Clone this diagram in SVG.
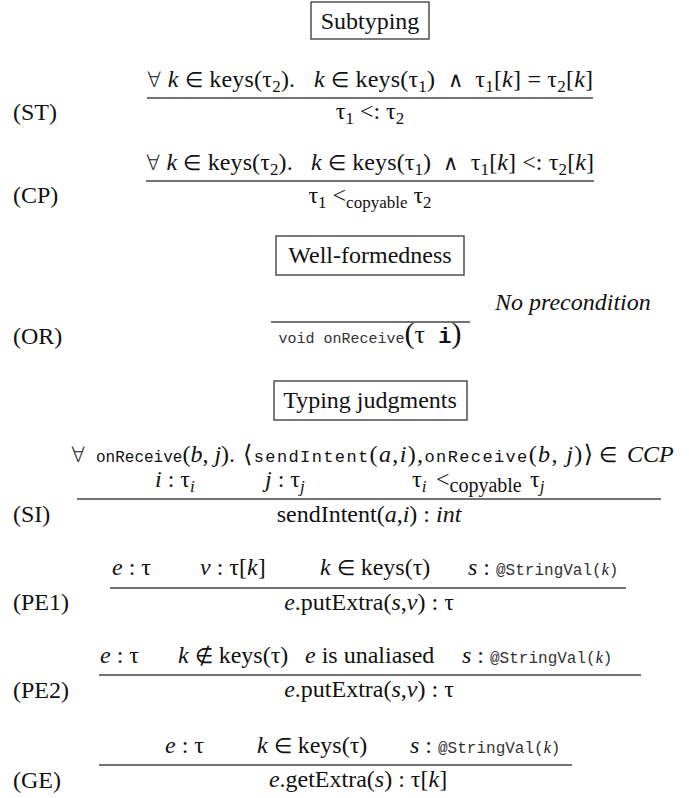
<svg xmlns="http://www.w3.org/2000/svg" width="689" height="798" viewBox="0 0 689 798">
<style>
text{font-family:"Liberation Serif","DejaVu Serif",serif;font-size:24px;fill:#111}
.i{font-style:italic}
.m{font-family:"Liberation Mono","DejaVu Sans Mono",monospace;font-size:17px}
.ms{font-family:"Liberation Mono","DejaVu Sans Mono",monospace;font-size:16px;fill:#333}
.s{font-size:17px}
.si{font-size:16px;font-style:italic}
.y{font-family:"DejaVu Sans",sans-serif;font-weight:200;font-size:21px}
.c{text-anchor:middle}
.box{fill:#fff;stroke:#444;stroke-width:1.4}
.bar{stroke:#444;stroke-width:1.6}
</style>
<rect width="689" height="798" fill="#fff"/>

<g id="hdr-subtyping">
<rect class="box" x="311" y="2" width="118" height="37"/>
<text class="c" x="370" y="29">Subtyping</text>
</g>

<g id="rule-ST">
<text x="13" y="120">(ST)</text>
<text class="c" x="370" y="87" textLength="446" lengthAdjust="spacing"><tspan class="y">∀</tspan> <tspan class="i">k</tspan> <tspan class="y">∈</tspan> keys(τ<tspan class="s" dy="5">2</tspan><tspan dy="-5">).&#160;&#160;&#160;</tspan><tspan class="i">k</tspan> <tspan class="y">∈</tspan> keys(τ<tspan class="s" dy="5">1</tspan><tspan dy="-5">)&#160;&#160;</tspan><tspan class="y">∧</tspan>&#160;&#160;τ<tspan class="s" dy="5">1</tspan><tspan dy="-5">[</tspan><tspan class="i">k</tspan>] = τ<tspan class="s" dy="5">2</tspan><tspan dy="-5">[</tspan><tspan class="i">k</tspan>]</text>
<line class="bar" x1="147" y1="98" x2="593" y2="98"/>
<text class="c" x="370" y="119">τ<tspan class="s" dy="5">1</tspan><tspan dy="-5"> &lt;: τ</tspan><tspan class="s" dy="5">2</tspan></text>
</g>

<g id="rule-CP">
<text x="13" y="203">(CP)</text>
<text class="c" x="370" y="170" textLength="448" lengthAdjust="spacing"><tspan class="y">∀</tspan> <tspan class="i">k</tspan> <tspan class="y">∈</tspan> keys(τ<tspan class="s" dy="5">2</tspan><tspan dy="-5">).&#160;&#160;&#160;</tspan><tspan class="i">k</tspan> <tspan class="y">∈</tspan> keys(τ<tspan class="s" dy="5">1</tspan><tspan dy="-5">)&#160;&#160;</tspan><tspan class="y">∧</tspan>&#160;&#160;τ<tspan class="s" dy="5">1</tspan><tspan dy="-5">[</tspan><tspan class="i">k</tspan>] &lt;: τ<tspan class="s" dy="5">2</tspan><tspan dy="-5">[</tspan><tspan class="i">k</tspan>]</text>
<line class="bar" x1="146" y1="181" x2="594" y2="181"/>
<text class="c" x="370" y="203">τ<tspan class="s" dy="5">1</tspan><tspan dy="-5"> &lt;</tspan><tspan class="s" dy="5">copyable</tspan><tspan dy="-5"> τ</tspan><tspan class="s" dy="5">2</tspan></text>
</g>

<g id="hdr-wellformedness">
<rect class="box" x="276" y="236" width="188" height="39"/>
<text class="c" x="370" y="263">Well-formedness</text>
</g>

<g id="rule-OR">
<text x="13" y="344">(OR)</text>
<text class="i" x="495" y="310">No precondition</text>
<line class="bar" x1="271" y1="322" x2="470" y2="322"/>
<text class="c" x="370" y="343"><tspan class="m" style="font-size:15px;fill:#333">void onReceive</tspan><tspan style="font-size:30px">(</tspan><tspan style="font-size:26px">τ</tspan><tspan class="m" style="font-size:22px;font-weight:bold"> i</tspan><tspan style="font-size:30px">)</tspan></text>
</g>

<g id="hdr-typing">
<rect class="box" x="274" y="381" width="193" height="39"/>
<text class="c" x="370" y="408">Typing judgments</text>
</g>

<g id="rule-SI">
<text x="13" y="522">(SI)</text>
<text class="y" x="71" y="462">∀</text>
<text x="96" y="462"><tspan class="m" style="font-size:16px">onReceive</tspan>(<tspan class="i">b</tspan>, <tspan class="i">j</tspan>).</text>
<text x="243" y="462" textLength="350" lengthAdjust="spacing">⟨<tspan class="m">sendIntent</tspan>(<tspan class="i">a</tspan>,<tspan class="i">i</tspan>),<tspan class="m">onReceive</tspan>(<tspan class="i">b</tspan>, <tspan class="i">j</tspan>)⟩</text>
<text class="y" x="599" y="462">∈</text>
<text class="i" x="627" y="462">CCP</text>
<text x="155" y="487"><tspan class="i">i</tspan> : τ<tspan class="s i" dy="5">i</tspan></text>
<text x="265" y="487"><tspan class="i">j</tspan> : τ<tspan class="s i" dy="5">j</tspan></text>
<text x="412" y="487">τ<tspan class="s i" dy="5">i</tspan></text>
<text x="436" y="487">&lt;<tspan style="font-size:20px" dy="5">copyable</tspan></text>
<text x="530" y="487">τ<tspan class="s i" dy="5">j</tspan></text>
<line class="bar" x1="77" y1="499" x2="661" y2="499"/>
<text class="c" x="369" y="522">sendIntent(<tspan class="i">a</tspan>,<tspan class="i">i</tspan>) : <tspan class="i">int</tspan></text>
</g>

<g id="rule-PE1">
<text x="13" y="610">(PE1)</text>
<text x="112" y="575"><tspan class="i">e</tspan> : τ</text>
<text x="200" y="575"><tspan class="i">v</tspan> : τ[<tspan class="i">k</tspan>]</text>
<text x="320" y="575"><tspan class="i">k</tspan> <tspan class="y">∈</tspan> keys(τ)</text>
<text x="468" y="575"><tspan class="i">s</tspan> : <tspan class="ms">@StringVal(</tspan><tspan class="si">k</tspan><tspan class="ms">)</tspan></text>
<line class="bar" x1="110" y1="588" x2="626" y2="588"/>
<text class="c" x="369" y="610"><tspan class="i">e</tspan>.putExtra(<tspan class="i">s</tspan>,<tspan class="i">v</tspan>) : τ</text>
</g>

<g id="rule-PE2">
<text x="13" y="698">(PE2)</text>
<text x="100" y="663"><tspan class="i">e</tspan> : τ</text>
<text x="178" y="663"><tspan class="i">k</tspan> <tspan class="y">∉</tspan> keys(τ)</text>
<text x="305" y="663"><tspan class="i">e</tspan> is unaliased</text>
<text x="462" y="663"><tspan class="i">s</tspan> : <tspan class="ms">@StringVal(</tspan><tspan class="si">k</tspan><tspan class="ms">)</tspan></text>
<line class="bar" x1="99" y1="675" x2="641" y2="675"/>
<text class="c" x="369" y="697"><tspan class="i">e</tspan>.putExtra(<tspan class="i">s</tspan>,<tspan class="i">v</tspan>) : τ</text>
</g>

<g id="rule-GE">
<text x="13" y="788">(GE)</text>
<text x="165" y="753"><tspan class="i">e</tspan> : τ</text>
<text x="257" y="753"><tspan class="i">k</tspan> <tspan class="y">∈</tspan> keys(τ)</text>
<text x="410" y="753"><tspan class="i">s</tspan> : <tspan class="ms">@StringVal(</tspan><tspan class="si">k</tspan><tspan class="ms">)</tspan></text>
<line class="bar" x1="99" y1="765" x2="572" y2="765"/>
<text class="c" x="358" y="787"><tspan class="i">e</tspan>.getExtra(<tspan class="i">s</tspan>) : τ[<tspan class="i">k</tspan>]</text>
</g>
</svg>
